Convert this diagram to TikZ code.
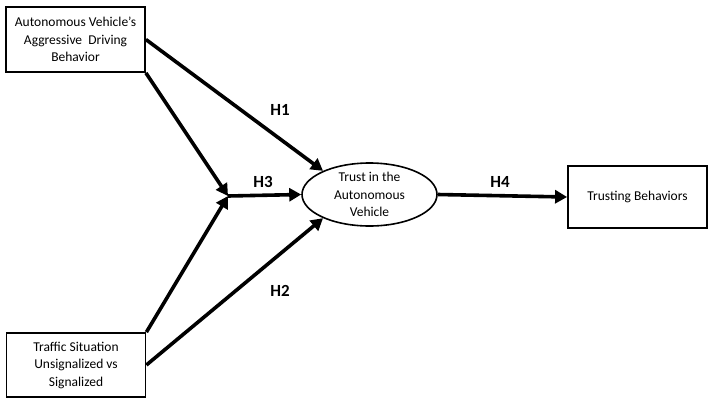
\documentclass[tikz,border=0pt]{standalone}
\usepackage{fontspec}
\setmainfont{Carlito}
\usetikzlibrary{arrows.meta,shapes.geometric}
\begin{document}
\begin{tikzpicture}[x=1pt,y=-1pt,
  box/.style={draw,line width=1.8pt,minimum width=139pt,align=center,font=\fontsize{13.5}{17.5}\selectfont,inner sep=0pt},
  oval/.style={draw,ellipse,line width=1.6pt,minimum width=135pt,minimum height=63pt,align=center,font=\fontsize{13.5}{17.5}\selectfont,inner sep=0pt},
  arr/.style={line width=3.6pt,-{Triangle[length=12pt,width=13pt]}},
  lab/.style={font=\fontsize{17}{19}\selectfont\bfseries}]
\useasboundingbox (0,0) rectangle (720,405);
\node[box,minimum height=65pt] (b1) at (75.5,39.5) {Autonomous Vehicle's\\Aggressive\ \ Driving\\Behavior};
\node[box,minimum height=64pt] (b2) at (76,365) {Traffic Situation\\Unsignalized vs\\Signalized};
\node[oval] (e) at (369.5,194.5) {Trust in the\\Autonomous\\Vehicle};
\node[box,minimum width=139pt,minimum height=62pt] (b3) at (637.5,197) {Trusting Behaviors};
\coordinate (j) at (228,196);
\draw[arr] (b1.east) -- (e.153);
\draw[arr] (b1.south east) -- (j);
\draw[arr] (b2.north east) -- (j);
\draw[arr] (b2.east) -- (e.207);
\draw[arr] (j) -- (e.west);
\draw[arr] (e.east) -- (b3.west);
\node[lab] (h1) at (280,110) {H1};
\node[lab] (h3) at (263,182) {H3};
\node[lab] (h2) at (280,291) {H2};
\node[lab] (h4) at (500,182) {H4};
\end{tikzpicture}
\end{document}
